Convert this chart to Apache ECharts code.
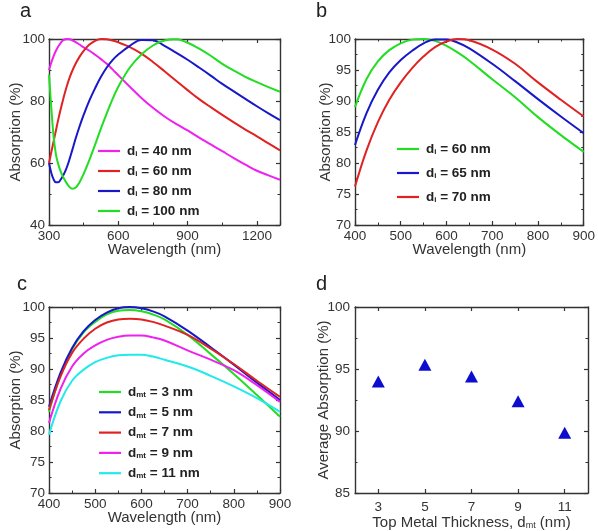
<!DOCTYPE html>
<html><head><meta charset="utf-8">
<script src="https://cdn.jsdelivr.net/npm/echarts@6/dist/echarts.min.js"></script>
<style>html,body{margin:0;padding:0;background:#fff}#c{width:598px;height:531px}</style>
</head><body><div id="c"></div>
<script>
// ---------- Panel a: absorption vs wavelength for dielectric thickness d_i ----------
const wlA = [300,310,320,330,340,350,360,370,380,390,400,415,430,450,475,500,525,550,575,600,650,700,750,800,850,900,950,1000,1050,1100,1150,1200,1250,1300];
const aDi40  = [90.0,92.4,94.5,96.2,97.6,98.7,99.5,99.9,100.0,99.9,99.6,99.0,98.3,97.3,96.2,94.9,93.5,92.0,90.2,88.3,84.6,81.0,77.8,75.0,72.6,70.5,68.2,66.0,63.8,61.6,59.5,57.5,56.0,54.6];
const aDi60  = [60.0,63.5,67.0,70.5,74.0,77.2,80.2,83.0,85.5,87.7,89.6,92.0,94.0,96.2,98.2,99.4,100.0,99.9,99.5,98.9,97.4,95.3,92.6,89.6,86.5,83.5,80.6,78.0,75.5,73.1,70.8,68.6,66.3,64.1];
const aDi80  = [60.0,56.8,54.7,53.8,53.8,54.6,55.8,57.3,59.2,61.5,64.0,67.8,71.3,75.5,80.2,84.2,87.8,90.8,93.2,95.0,97.8,99.7,99.6,97.8,95.6,93.3,90.8,88.2,85.5,83.1,80.7,78.3,76.0,73.8];
const aDi100 = [88.5,77.8,68.5,62.8,59.6,57.4,55.7,54.3,53.1,52.2,51.7,52.0,53.5,56.5,61.0,66.0,71.2,76.0,80.6,84.6,90.8,95.0,97.9,99.5,99.9,98.8,96.9,94.6,92.0,89.8,87.8,86.1,84.5,83.0];
const aLabels = ['d_i = 40 nm','d_i = 60 nm','d_i = 80 nm','d_i = 100 nm'];
const aTicksX = [300,600,900,1200];

// ---------- Panel b ----------
const wlB = [400,425,450,475,500,525,550,575,600,625,650,700,750,800,850,900];
const bDi60 = [89.0,93.5,96.4,98.2,99.3,99.9,100.0,99.7,98.9,97.8,96.5,93.5,90.6,87.4,84.5,81.8];
const bDi65 = [82.9,88.0,91.8,94.6,96.6,98.1,99.3,99.9,99.9,99.4,98.5,96.0,93.2,90.3,87.5,84.8];
const bDi70 = [76.2,82.0,86.6,90.2,93.0,95.3,97.2,98.7,99.6,100.0,99.8,98.3,96.0,93.0,90.2,87.5];
const bLabels = ['d_i = 60 nm','d_i = 65 nm','d_i = 70 nm'];

// ---------- Panel c: top metal thickness d_mt ----------
const wlC = [400,425,450,475,500,525,550,575,600,625,650,700,750,800,850,900];
const cDmt3  = [83.1,89.0,93.2,95.9,97.6,98.8,99.4,99.5,99.3,98.8,98.0,95.5,92.4,89.2,85.8,82.3];
const cDmt5  = [83.9,89.4,93.4,96.1,97.9,99.1,99.8,100.0,99.8,99.3,98.5,96.2,93.5,90.7,87.8,85.0];
const cDmt7  = [83.4,88.8,92.6,94.9,96.5,97.5,98.0,98.1,98.0,97.6,97.0,95.5,93.3,90.8,88.1,85.5];
const cDmt9  = [81.3,86.8,90.4,92.5,93.8,94.7,95.2,95.4,95.4,95.1,94.6,93.0,91.5,89.8,87.4,84.7];
const cDmt11 = [79.4,84.8,88.1,89.9,91.1,91.8,92.2,92.3,92.3,92.0,91.5,90.4,88.9,87.2,85.3,83.1];
const cLabels = ['d_mt = 3 nm','d_mt = 5 nm','d_mt = 7 nm','d_mt = 9 nm','d_mt = 11 nm'];

// ---------- Panel d: average absorption ----------
const dThickness = ['3','5','7','9','11'];
const dAvgAbs = [94.0,95.35,94.4,92.4,89.85];

const FONT = "'Liberation Sans', Arial, Helvetica, sans-serif";
const AX = '#333333';
const TXT = '#333';
const COL = {mag:'#ee22ee', red:'#e02222', blue:'#1818c8', green:'#22dd22', cyan:'#22eaea'};

function zip(xs, ys){ return xs.map((x,i)=>[x, ys[i]]); }
function richLabel(s){
  const m = s.match(/^d_(\w+)(.*)$/);
  return '{m|d}{s|' + m[1] + '}{m|' + m[2] + '}';
}
const richLeg = {
  m:{fontSize:13.5, fontWeight:'bold', color:'#222', lineHeight:14, fontFamily:FONT},
  s:{fontSize:8, fontWeight:'bold', color:'#222', lineHeight:6, verticalAlign:'bottom', fontFamily:FONT}
};
const nameRich = {
  s:{fontSize:9, color:TXT, lineHeight:6, verticalAlign:'bottom', fontFamily:FONT},
  m:{fontSize:15, color:TXT, lineHeight:16, fontFamily:FONT}
};

function vAxis(grid, pos, min, max, interval, opt){
  opt = opt || {};
  return {
    type:'value', gridIndex:grid, position:pos, min, max, interval,
    axisLine:{show:true, onZero:false, lineStyle:{color:AX, width:1.4}},
    axisTick:{show:true, inside:true, length:4, lineStyle:{color:AX, width:1.2}},
    minorTick:{show:true, splitNumber:2, length:2.5, lineStyle:{color:AX, width:1}},
    splitLine:{show:false}, minorSplitLine:{show:false},
    axisLabel:{show:!!opt.label, margin:opt.margin||4, fontSize:13.5, color:TXT, fontFamily:FONT,
      formatter: opt.fmt || (v=>String(v))},
    name: opt.name || '', nameLocation:'middle', nameGap: opt.nameGap || 20, nameMoveOverlap:false,
    nameTextStyle:{fontSize:15, color:TXT, fontFamily:FONT, rich:nameRich}
  };
}
function cAxis(grid, pos, opt){
  opt = opt || {};
  return {
    type:'category', gridIndex:grid, position:pos, data:dThickness, boundaryGap:true,
    axisLine:{show:true, onZero:false, lineStyle:{color:AX, width:1.4}},
    axisTick:{show:true, inside:true, length:4, alignWithLabel:true, lineStyle:{color:AX, width:1.2}},
    splitLine:{show:false},
    axisLabel:{show:!!opt.label, margin:7, fontSize:13.5, color:TXT, fontFamily:FONT},
    name: opt.name || '', nameLocation:'middle', nameGap: opt.nameGap || 20, nameMoveOverlap:false,
    nameTextStyle:{fontSize:15, color:TXT, fontFamily:FONT, rich:nameRich}
  };
}

const fmtA = v => (aTicksX.indexOf(v) >= 0 ? String(v) : '');

const labelMap = {};
const series = [];
function addLine(key, label, xi, yi, xs, ys, color){
  labelMap[key] = label;
  series.push({type:'line', name:key, xAxisIndex:xi, yAxisIndex:yi, data:zip(xs, ys),
    symbol:'none', showSymbol:false, smooth:0.4,
    lineStyle:{color, width:2}, itemStyle:{color}, z:3});
}
addLine('a40', aLabels[0], 0, 0, wlA, aDi40, COL.mag);
addLine('a60', aLabels[1], 0, 0, wlA, aDi60, COL.red);
addLine('a80', aLabels[2], 0, 0, wlA, aDi80, COL.blue);
addLine('a100', aLabels[3], 0, 0, wlA, aDi100, COL.green);
addLine('b60', bLabels[0], 2, 2, wlB, bDi60, COL.green);
addLine('b65', bLabels[1], 2, 2, wlB, bDi65, COL.blue);
addLine('b70', bLabels[2], 2, 2, wlB, bDi70, COL.red);
addLine('c3', cLabels[0], 4, 4, wlC, cDmt3, COL.green);
addLine('c5', cLabels[1], 4, 4, wlC, cDmt5, COL.blue);
addLine('c7', cLabels[2], 4, 4, wlC, cDmt7, COL.red);
addLine('c9', cLabels[3], 4, 4, wlC, cDmt9, COL.mag);
addLine('c11', cLabels[4], 4, 4, wlC, cDmt11, COL.cyan);
series.push({type:'scatter', name:'avg', xAxisIndex:6, yAxisIndex:6, data:dAvgAbs,
  symbol:'triangle', symbolSize:[13,12], itemStyle:{color:'#0d0dd0', opacity:1}, z:3});

function legend(names, left, top, gap){
  return {orient:'vertical', left, top, padding:0, icon:'rect', itemWidth:22, itemHeight:2.2, itemGap:gap,
    data:names, selectedMode:false,
    formatter: n => richLabel(labelMap[n]),
    textStyle:{fontSize:13.5, fontWeight:'bold', color:'#222', fontFamily:FONT, rich:richLeg, padding:[0,0,0,2]}};
}

const letterStyle = {fontSize:20, fontWeight:'normal', color:'#222', fontFamily:FONT};

const option = {
  animation:false,
  backgroundColor:'#fff',
  textStyle:{fontFamily:FONT},
  title:[
    {text:'a', left:20, top:1, padding:0, textStyle:letterStyle},
    {text:'b', left:316, top:1, padding:0, textStyle:letterStyle},
    {text:'c', left:17, top:274, padding:0, textStyle:letterStyle},
    {text:'d', left:316, top:274, padding:0, textStyle:letterStyle}
  ],
  grid:[
    {left:49, top:39, width:231, height:186},
    {left:355, top:39, width:233, height:186},
    {left:49, top:307, width:231, height:186},
    {left:355, top:307, width:233, height:186}
  ],
  legend:[
    legend(['a40','a60','a80','a100'], 98, 144, 6),
    legend(['b60','b65','b70'], 397, 142, 10),
    legend(['c3','c5','c7','c9','c11'], 99, 385, 6.3)
  ],
  xAxis:[
    vAxis(0,'bottom',300,1300,300,{label:true, fmt:fmtA, name:'Wavelength (nm)', nameGap:17}),
    vAxis(0,'top',300,1300,300,{}),
    vAxis(1,'bottom',400,900,100,{label:true, name:'Wavelength (nm)', nameGap:17}),
    vAxis(1,'top',400,900,100,{}),
    vAxis(2,'bottom',400,900,100,{label:true, name:'Wavelength (nm)', nameGap:17}),
    vAxis(2,'top',400,900,100,{}),
    cAxis(3,'bottom',{label:true, name:'Top Metal Thickness, d{s|mt} (nm)', nameGap:22}),
    cAxis(3,'top',{})
  ],
  yAxis:[
    vAxis(0,'left',40,100,20,{label:true, name:'Absorption (%)', nameGap:26}),
    vAxis(0,'right',40,100,20,{}),
    vAxis(1,'left',70,100,5,{label:true, name:'Absorption (%)', nameGap:22}),
    vAxis(1,'right',70,100,5,{}),
    vAxis(2,'left',70,100,5,{label:true, name:'Absorption (%)', nameGap:26}),
    vAxis(2,'right',70,100,5,{}),
    vAxis(3,'left',85,100,5,{label:true, margin:5, name:'Average Absorption (%)', nameGap:24}),
    vAxis(3,'right',85,100,5,{})
  ],
  series
};
const chart = echarts.init(document.getElementById('c'), null, {renderer:'canvas'});
chart.setOption(option);
</script></body></html>
